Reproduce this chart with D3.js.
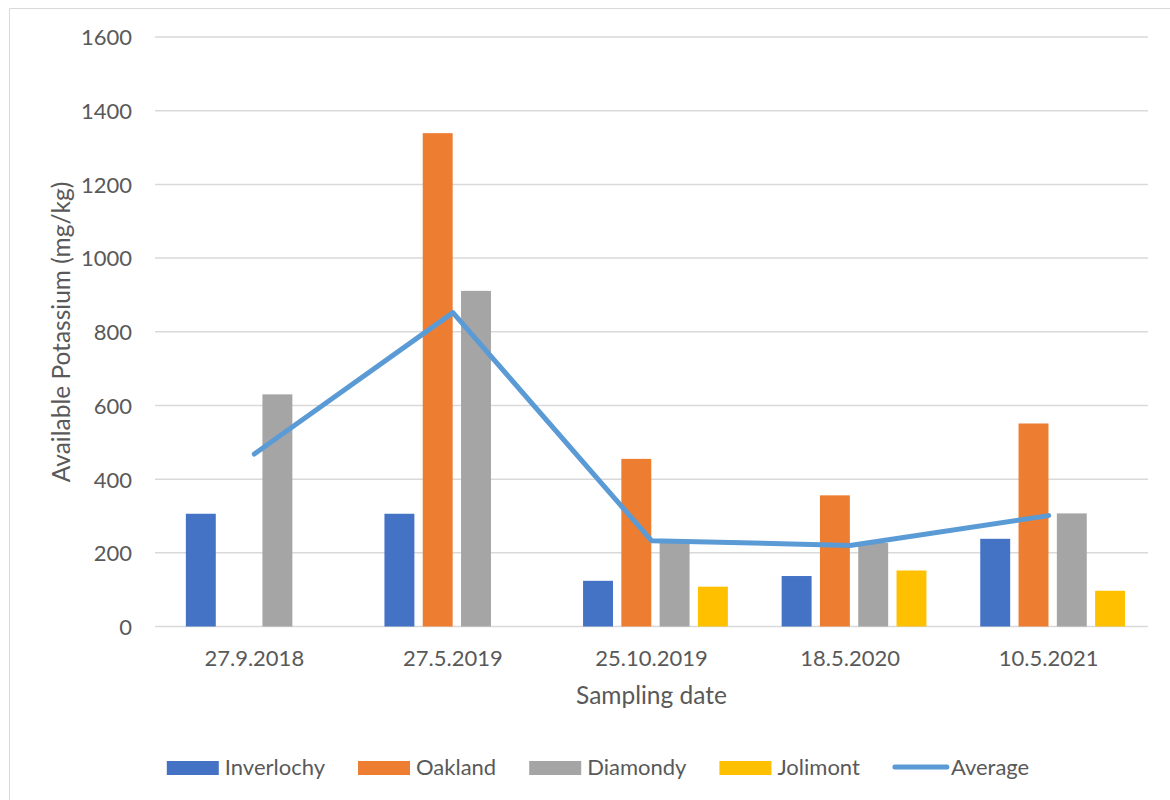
<!DOCTYPE html>
<html><head><meta charset="utf-8">
<script src="https://cdn.jsdelivr.net/npm/d3@7"></script>
<style>
html,body{margin:0;padding:0;background:#fff;}
text{font-family:Lato, "Open Sans", sans-serif;fill:#595959;}
</style></head>
<body>
<svg id="c" width="1170" height="800"></svg>
<script>
const categories = ["27.9.2018","27.5.2019","25.10.2019","18.5.2020","10.5.2021"];
const seriesNames = ["Inverlochy","Oakland","Diamondy","Jolimont"];
const inverlochy = [306, 306, 124, 137, 238];
const oakland   = [null, 1339, 455, 356, 551];
const diamondy  = [630, 911, 230, 227, 307];
const jolimont  = [null, null, 108, 152, 97];
const average   = [468, 852, 233, 220, 301];
const yTicks = [0,200,400,600,800,1000,1200,1400,1600];
const colors = ["#4472C4","#ED7D31","#A5A5A5","#FFC000"];
const avgColor = "#5B9BD5";

const series = [inverlochy, oakland, diamondy, jolimont];
const svg = d3.select("#c");
const FS = 22, FT = 24.5;

// chart border (top/left visible)
svg.append("line").attr("x1",9.5).attr("x2",1170).attr("y1",8.5).attr("y2",8.5).attr("stroke","#d9d9d9");
svg.append("line").attr("x1",9.5).attr("x2",9.5).attr("y1",8.5).attr("y2",800).attr("stroke","#d9d9d9");

const pL=155, pR=1148, pT=37, pB=626.5;
const x = d3.scaleBand().domain(categories).range([pL,pR]).paddingInner(0).paddingOuter(0);
const y = d3.scaleLinear().domain([0,1600]).range([pB,pT]);

// gridlines
svg.append("g").selectAll("line").data(yTicks).join("line")
  .attr("x1",pL).attr("x2",pR)
  .attr("y1",d=>y(d)).attr("y2",d=>y(d))
  .attr("stroke","#d9d9d9").attr("stroke-width",1.5);

// y axis labels
const yAxis = d3.axisLeft(y).tickValues(yTicks).tickFormat(d3.format("d")).tickSize(0).tickPadding(0);
const gy = svg.append("g").attr("transform",`translate(132,0)`).call(yAxis);
gy.select(".domain").remove();
gy.selectAll("text").style("font-size",FS+"px").attr("fill","#595959").attr("font-family","Lato").attr("dy","0.36em");

// x axis labels
const xAxis = d3.axisBottom(x).tickSize(0).tickPadding(0);
const gx = svg.append("g").attr("transform",`translate(0,666)`).call(xAxis);
gx.select(".domain").remove();
gx.selectAll("text").style("font-size",FS+"px").attr("fill","#595959").attr("font-family","Lato").attr("y",0).attr("dy",0);

// bars
const barW = 28.3, step = 36.2;
const sub = d3.scaleBand().domain(seriesNames).range([0, step*4]).paddingInner((step-barW)/step).paddingOuter(0);
const groupOffset = (x.bandwidth() - (step*3+barW))/2;
series.forEach((vals,si)=>{
  svg.append("g").selectAll("rect").data(vals.map((v,i)=>({v,c:categories[i]})).filter(d=>d.v!=null))
    .join("rect")
    .attr("x",d=>x(d.c)+groupOffset+sub(seriesNames[si]))
    .attr("width",sub.bandwidth())
    .attr("y",d=>y(d.v))
    .attr("height",d=>y(0)-y(d.v))
    .attr("fill",colors[si]);
});

// average line
const line = d3.line().x((d,i)=>x(categories[i])+x.bandwidth()/2).y(d=>y(d));
svg.append("path").datum(average).attr("d",line)
  .attr("fill","none").attr("stroke",avgColor).attr("stroke-width",5)
  .attr("stroke-linejoin","round").attr("stroke-linecap","round");

// axis titles
svg.append("text").attr("x",(pL+pR)/2).attr("y",704).attr("text-anchor","middle")
  .style("font-size",FT+"px").text("Sampling date");
svg.append("text").attr("transform",`translate(70,332) rotate(-90)`).attr("text-anchor","middle")
  .style("font-size",FT+"px").text("Available Potassium (mg/kg)");

// legend
const lg = svg.append("g");
const items = seriesNames.map((n,i)=>({n,c:colors[i],t:"bar"})).concat([{n:"Average",c:avgColor,t:"line"}]);
let cx = 0;
const swW = 52, gapT = 6, gapI = 33;
items.forEach(it=>{
  const g = lg.append("g").attr("transform",`translate(${cx},0)`);
  if(it.t==="bar") g.append("rect").attr("x",0).attr("y",761).attr("width",swW).attr("height",14).attr("fill",it.c);
  else g.append("line").attr("x1",2).attr("x2",swW+2).attr("y1",767).attr("y2",767).attr("stroke",it.c).attr("stroke-width",5).attr("stroke-linecap","round");
  const t = g.append("text").attr("x",swW+gapT).attr("y",775).style("font-size",FS+"px").text(it.n);
  cx += swW+gapT+t.node().getComputedTextLength()+gapI;
});
const totalW = cx - gapI;
lg.attr("transform",`translate(${598-totalW/2},0)`);
</script>
</body></html>
